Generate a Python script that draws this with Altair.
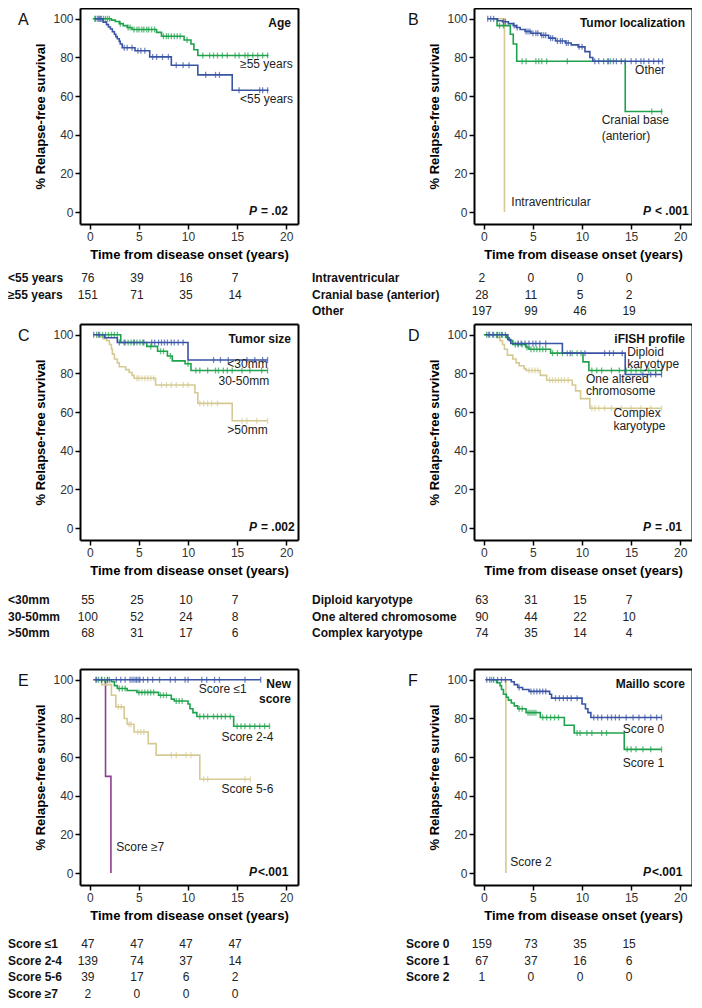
import altair as alt
import pandas as pd

FONT = "Liberation Sans"
BLUE, GREEN, TAN, PURPLE = "#3954A5", "#1FA24C", "#D5CA92", "#8E3D8F"
W, H = 218, 216
X_DOMAIN = [-1, 21.2]
Y_DOMAIN = [-6.2, 105.6]
TIMEPOINTS = [0, 5, 10, 15]
X_TICKS = [0, 5, 10, 15, 20]
Y_TICKS = [0, 20, 40, 60, 80, 100]

# ---------------- Panel A : Age ----------------
A_LT55_T = [0.5, 1.35, 1.7, 1.9, 2.1, 2.3, 2.5, 2.65, 2.8, 3.0, 3.1, 3.3, 4.6, 6.1, 8.3, 11.0, 14.5, 18.2]
A_LT55_S = [100, 98.3, 97, 95.8, 94.7, 93.3, 92, 90.8, 89.7, 88.3, 87, 85, 83.5, 80.3, 76, 71, 63, 63]
A_LT55_C = [0.6, 0.9, 1.1, 3.5, 3.8, 4.3, 4.9, 5.2, 5.6, 6.4, 6.8, 7.4, 8.0, 8.8, 9.5, 10.1,
            11.8, 12.8, 13.2, 15.2, 17.3, 17.6, 18.1]
A_GE55_T = [0.3, 2.2, 2.6, 3.0, 3.4, 3.8, 4.3, 6.8, 7.3, 9.6, 10.3, 10.6, 11.0, 18.2]
A_GE55_S = [100, 99.3, 98.6, 97.5, 96.5, 95.5, 94.5, 93, 91, 89, 87, 84, 81, 81]
A_GE55_C = [0.5, 0.8, 1.0, 1.2, 1.4, 1.6, 1.8, 2.0, 3.1, 3.9, 4.1, 4.5, 4.8, 5.0, 5.3, 5.5, 5.8,
            6.0, 6.3, 6.6, 7.5, 7.8, 8.0, 8.3, 8.6, 8.9, 9.2, 9.9, 11.5, 12.2, 12.6, 13.0, 13.5,
            14.0, 14.8, 15.2, 15.8, 16.1, 16.6, 17.1, 17.6, 18.1]
A_LABELS = [("≥55 years", 15.3, 76.6), ("<55 years", 15.3, 58.3)]
A_ROWS = ["<55 years", "≥55 years"]
A_COUNTS = [[76, 39, 16, 7], [151, 71, 35, 14]]

# ---------------- Panel B : Tumor localization ----------------
B_OTHER_T = [0.35, 1.4, 1.9, 2.5, 3.0, 3.3, 3.7, 4.2, 4.8, 5.8, 6.6, 7.3, 8.3, 8.9, 9.6, 10.3, 10.8, 11.1, 18.2]
B_OTHER_S = [100, 99, 98.5, 97.5, 96.5, 95.5, 94.5, 93.5, 92.5, 91.5, 90, 88.5, 87.5, 86.5, 85.5, 83, 80, 78, 78]
B_OTHER_C = [0.4, 0.7, 1.0, 2.0, 2.2, 3.1, 3.4, 4.3, 4.5, 4.7, 5.0, 5.3, 5.5, 5.9, 6.1, 6.3, 6.8, 7.0,
             7.5, 7.8, 8.0, 8.4, 8.6, 9.7, 10.0, 11.3, 11.7, 12.2, 12.7, 13.2, 13.5, 14.0, 14.4, 15.0,
             15.5, 16.0, 16.3, 16.8, 17.3, 17.8, 18.2]
B_CRAN_T = [0.8, 1.35, 2.7, 3.0, 3.35, 14.4, 18.2]
B_CRAN_S = [100, 96.5, 92, 87, 78, 52, 52]
B_CRAN_C = [1.6, 2.0, 3.9, 4.3, 5.3, 5.6, 5.9, 6.4, 8.5, 12.6, 12.9, 17.1, 18.1]
B_INTRA_T = [1.4, 2.1]
B_INTRA_S = [100, 0]
B_LABELS = [("Other", 15.4, 73.3), ("Cranial base", 12.0, 47.5), ("(anterior)", 12.0, 39.2),
            ("Intraventricular", 2.8, 5.0)]
B_ROWS = ["Intraventricular", "Cranial base (anterior)", "Other"]
B_COUNTS = [[2, 0, 0, 0], [28, 11, 5, 2], [197, 99, 46, 19]]

# ---------------- Panel C : Tumor size ----------------
C_LT30_T = [0.35, 1.5, 2.8, 10.0, 18.1]
C_LT30_S = [100, 98.5, 96, 87, 87]
C_LT30_C = [0.4, 0.9, 3.0, 3.5, 4.5, 5.5, 6.3, 6.6, 7.0, 7.3, 7.6, 7.9, 8.3, 8.6, 9.0, 9.5,
            12.6, 13.3, 14.1, 16.0, 16.8, 17.6, 18.1]
C_3050_T = [0.6, 3.15, 5.8, 6.9, 7.9, 8.4, 9.7, 10.3, 18.1]
C_3050_S = [100, 96, 94, 91.5, 89, 86.5, 85, 81.5, 81.5]
C_3050_C = [0.7, 1.0, 1.3, 1.6, 1.9, 2.2, 2.5, 2.8, 3.6, 3.9, 4.2, 4.5, 4.8, 5.1, 5.4, 6.2, 7.2, 7.5,
            8.2, 10.0, 10.8, 11.2, 12.0, 12.8, 13.1, 13.6, 14.0, 14.5, 15.5, 16.3, 17.5, 18.1]
C_GT50_T = [0.6, 1.0, 1.35, 1.7, 2.0, 2.2, 2.3, 2.5, 2.8, 3.0, 3.65, 4.0, 4.3, 4.5, 6.7, 10.7, 11.0, 14.5, 18.1]
C_GT50_S = [100, 99, 98, 97, 95, 92.6, 90, 87.5, 85.5, 83.5, 82, 80.5, 79, 77.5, 74, 70, 64.5, 55.5, 55.5]
C_GT50_C = [0.7, 4.8, 5.0, 5.3, 5.6, 5.9, 6.2, 6.5, 7.3, 7.8, 8.3, 8.8, 9.5, 10.0, 11.2, 11.6, 12.0,
            12.4, 13.0, 15.5, 16.0, 17.0, 18.1]
C_LABELS = [("<30mm", 14.0, 85.0), ("30-50mm", 13.1, 76.3), (">50mm", 14.0, 50.5)]
C_ROWS = ["<30mm", "30-50mm", ">50mm"]
C_COUNTS = [[55, 25, 10, 7], [100, 52, 24, 8], [68, 31, 17, 6]]

# ---------------- Panel D : iFISH profile ----------------
D_DIP_T = [0.15, 2.45, 2.75, 8.0, 14.4, 18.1]
D_DIP_S = [100, 97.5, 95.5, 90.5, 79.5, 79.5]
D_DIP_C = [0.5, 0.9, 1.4, 1.8, 2.2, 3.5, 3.8, 4.2, 4.6, 5.0, 5.3, 5.7, 6.3, 8.8, 10.3, 12.3, 12.8,
           13.2, 14.1, 16.2, 17.0, 17.5, 18.1]
D_ONE_T = [0.0, 2.3, 2.6, 2.95, 4.3, 4.6, 6.8, 10.1, 10.7, 18.1]
D_ONE_S = [100, 98.5, 97, 95, 93.5, 92.5, 90.5, 86, 81.5, 81.5]
D_ONE_C = [0.3, 0.6, 1.0, 1.3, 1.6, 1.9, 3.2, 3.5, 3.9, 4.4, 4.8, 5.1, 5.4, 5.7, 6.0, 6.3, 7.0, 7.5,
           8.0, 8.5, 9.0, 9.5, 9.9, 11.0, 11.5, 12.0, 13.0, 13.8, 14.5, 15.0, 15.5, 16.0, 16.8, 17.5, 18.1]
D_CPX_T = [0.0, 1.3, 1.65, 1.9, 2.1, 2.4, 2.95, 3.3, 3.6, 4.1, 4.3, 5.75, 6.4, 9.0, 9.35, 9.85, 10.8, 18.1]
D_CPX_S = [100, 98.5, 97, 95, 92.5, 89.5, 87.5, 85.5, 84, 82.5, 81.5, 79, 76.5, 74, 71, 67, 62, 62]
D_CPX_C = [0.3, 4.6, 4.9, 5.2, 5.5, 6.7, 7.0, 7.3, 7.6, 7.9, 8.2, 8.6, 11.0, 11.3, 11.7, 12.3, 13.0,
           14.0, 15.0, 16.0, 17.0, 18.1]
D_LABELS = [("Diploid", 14.6, 91.3), ("karyotype", 14.6, 84.9), ("One altered", 10.4, 77.2),
            ("chromosome", 10.4, 70.8), ("Complex", 13.2, 59.3), ("karyotype", 13.2, 52.9)]
D_ROWS = ["Diploid karyotype", "One altered chromosome", "Complex karyotype"]
D_COUNTS = [[63, 31, 15, 7], [90, 44, 22, 10], [74, 35, 14, 4]]

# ---------------- Panel E : New score ----------------
E_LE1_T = [0.35, 17.4]
E_LE1_S = [100, 100]
E_LE1_C = [0.7, 1.2, 1.8, 2.7, 3.15, 3.6, 4.1, 4.3, 4.5, 4.7, 4.8, 5.0, 5.1, 5.45, 5.9, 6.4, 7.1,
           8.2, 8.7, 9.7, 10.0, 11.4, 11.9, 12.7, 13.2, 15.8, 17.4]
E_24_T = [0.5, 2.2, 2.5, 2.8, 3.8, 4.8, 7.0, 8.3, 8.6, 10.0, 10.2, 10.5, 10.9, 14.65, 18.3]
E_24_S = [100, 99, 97, 95.5, 94.5, 93.5, 92, 90, 89, 87.5, 85, 83, 81, 76, 76]
E_24_C = [0.6, 0.9, 1.2, 1.5, 1.8, 2.0, 3.0, 3.3, 3.6, 5.0, 5.3, 5.6, 5.9, 6.2, 6.5, 7.2, 7.5, 7.8,
          8.8, 9.1, 9.4, 11.2, 11.6, 12.0, 12.6, 13.0, 13.4, 13.8, 14.3, 15.0, 15.4, 15.8, 16.3,
          16.8, 17.3, 17.8, 18.3]
E_56_T = [0.9, 1.2, 2.2, 2.65, 3.5, 3.8, 4.5, 5.95, 6.75, 11.2, 16.35]
E_56_S = [100, 97.5, 92, 86, 80, 77, 73, 67, 61, 48.5, 48.5]
E_56_C = [2.9, 3.2, 4.0, 4.2, 4.9, 5.2, 5.5, 8.3, 8.8, 9.8, 10.3, 11.6, 12.0, 15.8, 16.35]
E_GE7_T = [1.0, 1.6, 2.15]
E_GE7_S = [100, 50, 0]
E_LABELS = [("Score ≤1", 11.1, 95.0), ("Score 2-4", 13.4, 70.2), ("Score 5-6", 13.4, 43.3),
            ("Score ≥7", 2.7, 13.5)]
E_ROWS = ["Score ≤1", "Score 2-4", "Score 5-6", "Score ≥7"]
E_COUNTS = [[47, 47, 47, 47], [139, 74, 37, 14], [39, 17, 6, 2], [2, 0, 0, 0]]

# ---------------- Panel F : Maillo score ----------------
F_0_T = [0.15, 2.8, 3.1, 3.45, 3.95, 4.6, 6.7, 6.9, 10.0, 10.35, 10.6, 10.9, 18.1]
F_0_S = [100, 99, 97.5, 96, 95, 94, 92.5, 90.5, 87.5, 85, 83, 80.5, 80.5]
F_0_C = [0.3, 0.6, 1.0, 1.4, 1.8, 2.2, 3.6, 4.8, 5.1, 5.4, 5.7, 6.0, 6.3, 7.3, 7.7, 8.1, 8.5, 8.9,
         9.5, 11.2, 11.6, 12.0, 12.6, 13.0, 13.4, 13.8, 14.5, 15.2, 15.8, 16.4, 17.0, 17.6, 18.1]
F_1_T = [0.65, 1.3, 1.65, 1.8, 2.0, 2.3, 2.5, 2.8, 3.1, 3.45, 4.3, 5.75, 8.2, 9.2, 14.3, 18.1]
F_1_S = [100, 98.5, 97, 95, 92.5, 91, 89.5, 88, 86.5, 85, 83, 80.5, 76.5, 72.5, 64, 64]
F_1_C = [0.8, 3.6, 3.9, 4.5, 4.7, 4.9, 5.1, 5.3, 6.0, 6.4, 6.8, 7.2, 7.6, 9.5, 9.8, 10.5, 11.0,
         12.0, 12.5, 14.6, 15.0, 15.5, 16.2, 17.0, 18.1]
F_2_T = [1.8, 2.25]
F_2_S = [100, 0]
F_LABELS = [("Score 0", 14.15, 74.4), ("Score 1", 14.15, 57.0), ("Score 2", 2.7, 5.5)]
F_ROWS = ["Score 0", "Score 1", "Score 2"]
F_COUNTS = [[159, 73, 35, 15], [67, 37, 16, 6], [1, 0, 0, 0]]


def censor_df(T, S, C):
    ys = []
    for c in C:
        idx = [k for k in range(len(T)) if T[k] <= c]
        ys.append(S[idx[-1]] if idx else S[0])
    return pd.DataFrame({"t": C, "s": ys})


AX_COMMON = dict(domain=True, domainColor="black", domainWidth=2, grid=False,
                 tickSize=5, tickWidth=1.5, tickColor="black", labelFont=FONT, labelFontSize=12,
                 labelColor="#333333", labelPadding=2, labelFlush=False, titleFont=FONT,
                 titleFontSize=13, titleFontWeight="bold", titleColor="black")
xax = alt.Axis(values=X_TICKS, title="Time from disease onset (years)", titlePadding=6, **AX_COMMON)
yax = alt.Axis(values=Y_TICKS, title="% Relapse-free survival", titlePadding=5, **AX_COMMON)
xax_top = alt.Axis(orient="top", title="", labels=False, ticks=False, domain=True,
                   domainColor="black", domainWidth=2, grid=False)
yax_right = alt.Axis(orient="right", title="", labels=False, ticks=False, domain=True,
                     domainColor="black", domainWidth=2, grid=False)


def panel(letter, letter_x, title, p_sym, p_rest, p_gap, curves, labels, rows, counts, row_x, table_top):
    xs = alt.Scale(domain=X_DOMAIN, nice=False, zero=False)
    ys = alt.Scale(domain=Y_DOMAIN, nice=False, zero=False)
    X = alt.X("t:Q", scale=xs, axis=xax)
    Y = alt.Y("s:Q", scale=ys, axis=yax)
    layers = []
    for T, S, C, col in curves:
        layers.append(alt.Chart(pd.DataFrame({"t": T, "s": S})).mark_line(
            interpolate="step-after", color=col, strokeWidth=1.6).encode(x=X, y=Y))
        if C:
            layers.append(alt.Chart(censor_df(T, S, C)).mark_tick(
                orient="vertical", color=col, size=6, thickness=1.3).encode(x=X, y=Y))
    lab_df = pd.DataFrame({"t": [l[1] for l in labels], "s": [l[2] for l in labels],
                           "txt": [l[0] for l in labels]})
    layers.append(alt.Chart(lab_df).mark_text(align="left", baseline="middle", font=FONT,
                                              fontSize=12, color="#222222").encode(
        x=X, y=Y, text="txt:N"))
    # panel letter
    layers.append(alt.Chart(pd.DataFrame({"txt": [letter]})).mark_text(
        align="left", baseline="alphabetic", font=FONT, fontSize=16, color="#111111").encode(
        x=alt.value(letter_x), y=alt.value(17), text="txt:N"))
    # title
    layers.append(alt.Chart(pd.DataFrame({"txt": [title]})).mark_text(
        align="right", baseline="alphabetic", font=FONT, fontSize=12, fontWeight="bold",
        color="#111111", lineBreak="\n", lineHeight=15).encode(
        x=alt.value(W - 7), y=alt.value(19), text="txt:N"))
    # p value
    layers.append(alt.Chart(pd.DataFrame({"txt": [p_sym]})).mark_text(
        align="left", baseline="alphabetic", font=FONT, fontSize=12, fontWeight="bold",
        fontStyle="italic", color="#111111").encode(
        x=alt.value(W - 49), y=alt.value(H - 9), text="txt:N"))
    layers.append(alt.Chart(pd.DataFrame({"txt": [p_rest]})).mark_text(
        align="left", baseline="alphabetic", font=FONT, fontSize=12, fontWeight="bold",
        color="#111111").encode(
        x=alt.value(W - 49 + p_gap), y=alt.value(H - 9), text="txt:N"))
    # number-at-risk table
    for i, (lab, cnt) in enumerate(zip(rows, counts)):
        ypix = H + table_top + 16.5 * i
        layers.append(alt.Chart(pd.DataFrame({"t": TIMEPOINTS, "n": cnt})).mark_text(
            align="center", baseline="middle", font=FONT, fontSize=12, color="#222222",
            dx=-2).encode(x=X, y=alt.value(ypix), text="n:Q"))
        layers.append(alt.Chart(pd.DataFrame({"txt": [lab]})).mark_text(
            align="left", baseline="middle", font=FONT, fontSize=12, fontWeight="bold",
            color="#111111").encode(x=alt.value(row_x), y=alt.value(ypix), text="txt:N"))
    content = alt.layer(*layers)
    # invisible layer on its own (identical) scales, carrying the top and right frame edges
    T0, S0 = curves[0][0], curves[0][1]
    frame = alt.Chart(pd.DataFrame({"t": T0, "s": S0})).mark_line(opacity=0).encode(
        x=alt.X("t:Q", scale=alt.Scale(domain=X_DOMAIN, nice=False, zero=False), axis=xax_top),
        y=alt.Y("s:Q", scale=alt.Scale(domain=Y_DOMAIN, nice=False, zero=False), axis=yax_right))
    return alt.layer(content, frame).resolve_scale(x="independent", y="independent").properties(
        width=W, height=H)


pA = panel("A", -62, "Age", "P", "= .02", 12,
           [(A_GE55_T, A_GE55_S, A_GE55_C, GREEN), (A_LT55_T, A_LT55_S, A_LT55_C, BLUE)],
           A_LABELS, A_ROWS, A_COUNTS, -72, 54)
pB = panel("B", -66, "Tumor localization", "P", "< .001", 12,
           [(B_INTRA_T, B_INTRA_S, [], TAN), (B_CRAN_T, B_CRAN_S, B_CRAN_C, GREEN),
            (B_OTHER_T, B_OTHER_S, B_OTHER_C, BLUE)],
           B_LABELS, B_ROWS, B_COUNTS, -162, 54)
pC = panel("C", -62, "Tumor size", "P", "= .002", 12,
           [(C_GT50_T, C_GT50_S, C_GT50_C, TAN), (C_3050_T, C_3050_S, C_3050_C, GREEN),
            (C_LT30_T, C_LT30_S, C_LT30_C, BLUE)],
           C_LABELS, C_ROWS, C_COUNTS, -72, 60)
pD = panel("D", -66, "iFISH profile", "P", "= .01", 12,
           [(D_CPX_T, D_CPX_S, D_CPX_C, TAN), (D_ONE_T, D_ONE_S, D_ONE_C, GREEN),
            (D_DIP_T, D_DIP_S, D_DIP_C, BLUE)],
           D_LABELS, D_ROWS, D_COUNTS, -162, 60)
pE = panel("E", -62, "New\nscore", "P", "<.001", 9,
           [(E_GE7_T, E_GE7_S, [], PURPLE), (E_56_T, E_56_S, E_56_C, TAN),
            (E_24_T, E_24_S, E_24_C, GREEN), (E_LE1_T, E_LE1_S, E_LE1_C, BLUE)],
           E_LABELS, E_ROWS, E_COUNTS, -72, 59)
pF = panel("F", -66, "Maillo score", "P", "<.001", 9,
           [(F_2_T, F_2_S, [], TAN), (F_1_T, F_1_S, F_1_C, GREEN), (F_0_T, F_0_S, F_0_C, BLUE)],
           F_LABELS, F_ROWS, F_COUNTS, -68, 59)

row1 = alt.hconcat(pA, pB, spacing=176, bounds="flush")
row2 = alt.hconcat(pC, pD, spacing=176, bounds="flush")
row3 = alt.hconcat(pE, pF, spacing=176, bounds="flush")
top = alt.vconcat(row1, row2, spacing=7)
chart = alt.vconcat(top, row3, spacing=30).properties(
    padding={"left": 0, "top": 0, "right": 0, "bottom": 0}
).configure(font=FONT).configure_view(stroke=None)

chart.save("out.html", embed_options={"renderer": "svg", "actions": False})
